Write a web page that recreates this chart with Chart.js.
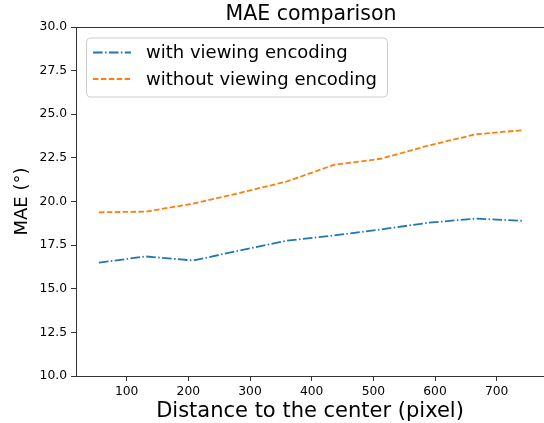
<!DOCTYPE html>
<html>
<head>
<meta charset="utf-8">
<script src="https://cdn.jsdelivr.net/npm/chart.js@4/dist/chart.umd.min.js"></script>
<style>
  html, body { margin: 0; padding: 0; background: #fff; }
</style>
</head>
<body>
<canvas id="myChart" width="544" height="423"></canvas>
<script>
// values
const distance = [55, 131, 208, 284, 360, 436, 512, 589, 666, 743];
const withEncoding = [16.50, 16.85, 16.62, 17.20, 17.76, 18.05, 18.40, 18.78, 19.02, 18.89];
const withoutEncoding = [19.38, 19.42, 19.88, 20.50, 21.15, 22.10, 22.45, 23.20, 23.85, 24.09];
const xTicks = [100, 200, 300, 400, 500, 600, 700];
const yTicks = [10, 12.5, 15, 17.5, 20, 22.5, 25, 27.5, 30];
const seriesNames = ['with viewing encoding', 'without viewing encoding'];
const seriesColors = ['#1f77b4', '#ff7f0e'];
const seriesDash = [[9.6, 2.4, 1.5, 2.4], [5.5, 2.4]];

const FONT = "'DejaVu Sans', sans-serif";
const SPINE = '#333';

function toPoints(ys) {
    return ys.map(function (y, i) { return { x: distance[i], y: y }; });
}

// top spine, title and the legend box (matplotlib look)
const framePlugin = {
    id: 'frame',
    afterDraw(chart) {
        const ctx = chart.ctx;
        const a = chart.chartArea;
        ctx.save();
        ctx.strokeStyle = SPINE;
        ctx.lineWidth = 1;
        ctx.beginPath();
        ctx.moveTo(a.left, a.top + 0.5);
        ctx.lineTo(a.right, a.top + 0.5);
        ctx.stroke();

        // title centred over the whole axes (right spine is outside the image)
        ctx.fillStyle = '#000';
        ctx.font = '20.5px ' + FONT;
        ctx.textAlign = 'center';
        ctx.textBaseline = 'alphabetic';
        ctx.fillText('MAE comparison', 311, 19.5);

        // legend
        const bx = a.left + 10.5, by = a.top + 11, bw = 301, bh = 59, r = 4;
        ctx.beginPath();
        ctx.moveTo(bx + r, by);
        ctx.lineTo(bx + bw - r, by);
        ctx.arcTo(bx + bw, by, bx + bw, by + r, r);
        ctx.lineTo(bx + bw, by + bh - r);
        ctx.arcTo(bx + bw, by + bh, bx + bw - r, by + bh, r);
        ctx.lineTo(bx + r, by + bh);
        ctx.arcTo(bx, by + bh, bx, by + bh - r, r);
        ctx.lineTo(bx, by + r);
        ctx.arcTo(bx, by, bx + r, by, r);
        ctx.closePath();
        ctx.fillStyle = 'rgba(255,255,255,0.8)';
        ctx.fill();
        ctx.strokeStyle = '#cccccc';
        ctx.stroke();

        ctx.font = '18px ' + FONT;
        ctx.textAlign = 'left';
        ctx.textBaseline = 'middle';
        chart.data.datasets.forEach(function (ds, i) {
            const ly = a.top + 25.5 + i * 26.5;
            ctx.strokeStyle = ds.borderColor;
            ctx.lineWidth = ds.borderWidth;
            ctx.setLineDash(ds.borderDash);
            ctx.beginPath();
            ctx.moveTo(a.left + 17, ly);
            ctx.lineTo(a.left + 55, ly);
            ctx.stroke();
            ctx.setLineDash([]);
            ctx.fillStyle = '#000';
            ctx.fillText(ds.label, a.left + 70, ly + 1);
        });
        ctx.restore();
    }
};

const ctx = document.getElementById('myChart').getContext('2d');
const myChart = new Chart(ctx, {
    type: 'line',
    data: {
        datasets: [{
            label: seriesNames[0],
            data: toPoints(withEncoding),
            borderColor: seriesColors[0],
            borderDash: seriesDash[0],
            borderWidth: 1.8,
            pointRadius: 0,
            tension: 0,
            fill: false
        }, {
            label: seriesNames[1],
            data: toPoints(withoutEncoding),
            borderColor: seriesColors[1],
            borderDash: seriesDash[1],
            borderWidth: 1.8,
            pointRadius: 0,
            tension: 0,
            fill: false
        }]
    },
    options: {
        responsive: false,
        animation: false,
        devicePixelRatio: 1,
        layout: { padding: { top: 27, right: 0, bottom: 0, left: 0 } },
        plugins: {
            legend: { display: false },
            title: { display: false },
            tooltip: { enabled: false }
        },
        scales: {
            x: {
                type: 'linear',
                min: 17.8,
                max: 776.7,
                afterBuildTicks: function (scale) {
                    scale.ticks = xTicks.map(function (v) { return { value: v }; });
                },
                afterFit: function (scale) { scale.height = 47; },
                grid: { display: true, drawOnChartArea: false, drawTicks: true, tickLength: 5, color: SPINE },
                border: { display: true, color: SPINE, width: 1 },
                ticks: {
                    color: '#000',
                    padding: 3,
                    maxRotation: 0,
                    font: { family: FONT, size: 12.3 },
                    callback: function (v) { return String(v); }
                },
                title: {
                    display: true,
                    text: 'Distance to the center (pixel)',
                    color: '#000',
                    font: { family: FONT, size: 21, lineHeight: 1.1 },
                    padding: { top: 0, bottom: 0 }
                }
            },
            y: {
                min: 10,
                max: 30,
                afterBuildTicks: function (scale) {
                    scale.ticks = yTicks.map(function (v) { return { value: v }; });
                },
                afterFit: function (scale) { scale.width = 76; },
                grid: { display: true, drawOnChartArea: false, drawTicks: true, tickLength: 5, color: SPINE },
                border: { display: true, color: SPINE, width: 1 },
                ticks: {
                    color: '#000',
                    padding: 4,
                    font: { family: FONT, size: 12.3 },
                    callback: function (v) { return Number(v).toFixed(1); }
                },
                title: {
                    display: true,
                    text: 'MAE (°)',
                    color: '#000',
                    font: { family: FONT, size: 18, lineHeight: 1.2 },
                    padding: { top: 12, bottom: 0 }
                }
            }
        }
    },
    plugins: [framePlugin]
});
</script>
</body>
</html>
